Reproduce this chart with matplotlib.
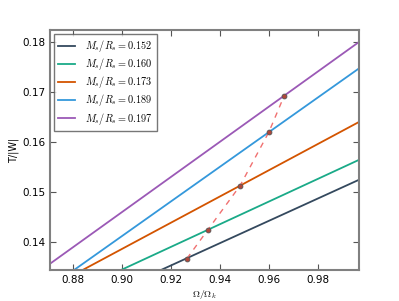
import numpy as np
import matplotlib
matplotlib.use("Agg")
import matplotlib.pyplot as plt

plt.rcParams['mathtext.fontset'] = 'cm'

ratios = ["0.152", "0.160", "0.173", "0.189", "0.197"]
colors = ["#34495e", "#1aaa88", "#d35400", "#3498db", "#9b59b6"]

# straight lines, read at the two ends
x_ends = [0.86, 1.0]
y_ends = [
    [0.1219, 0.1532],
    [0.1254, 0.1572],
    [0.1281, 0.1649],
    [0.1273, 0.1759],
    [0.1319, 0.1812],
]

# marked points on each curve
dot_x = [0.9265, 0.9351, 0.9482, 0.9600, 0.9661]
dot_y = [0.1367, 0.1425, 0.1513, 0.1621, 0.1692]

fig = plt.figure(figsize=(3.99, 3.01), dpi=100)
ax = fig.add_axes([0.125, 0.103, 0.775, 0.797])

for r, c, ys in zip(ratios, colors, y_ends):
    ax.plot(x_ends, ys, color=c, lw=1.3, label=r"$M_s/R_s=$" + r"$%s$" % r)

ax.plot(dot_x, dot_y, ls="--", color="#f07070", lw=1.0, dashes=(4, 4))
ax.plot(dot_x, dot_y, "o", ms=3.5, mfc="#b0473a", mec="#555555", mew=0.6, ls="none")

ax.set_xlim(0.8706, 0.9967)
ax.set_ylim(0.1344, 0.1824)
ax.set_xticks([0.88, 0.90, 0.92, 0.94, 0.96, 0.98])
ax.set_yticks([0.14, 0.15, 0.16, 0.17, 0.18])
ax.tick_params(direction="in", top=True, right=True, labelsize=7.5, length=4, color="#555555")
for s in ax.spines.values():
    s.set_color("#808080")
    s.set_linewidth(1.5)

ax.set_xlabel(r"$\Omega/\Omega_k$", fontsize=7, labelpad=2)
ax.set_ylabel("T/|W|", fontsize=7, labelpad=2)

leg = ax.legend(loc="upper left", fontsize=7.4, fancybox=False, handlelength=1.6,
                handletextpad=1.0, borderpad=0.4, labelspacing=0.2,
                borderaxespad=0.4)
leg.get_frame().set_edgecolor("#555555")
leg.get_frame().set_linewidth(1.0)

fig.savefig("out.png", dpi=100)
